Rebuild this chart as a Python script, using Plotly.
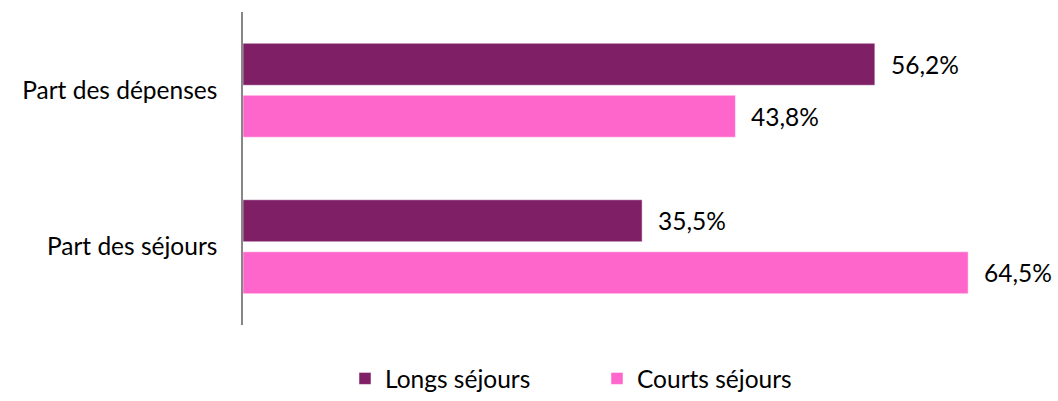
import plotly.graph_objects as go

categories = ["Part des dépenses", "Part des séjours"]
longs = [56.2, 35.5]
courts = [43.8, 64.5]
series_names = ["Longs séjours", "Courts séjours"]

purple = "#7F1F66"
pink = "#FF66CC"
font = "Lato, Calibri, sans-serif"


def fmt(v):
    return ("%.1f" % v).replace(".", ",") + "%"


fig = go.Figure()
fig.add_trace(go.Bar(y=categories, x=longs, name=series_names[0], orientation="h",
                     marker=dict(color=purple, line=dict(color="white", width=0.5))))
fig.add_trace(go.Bar(y=categories, x=courts, name=series_names[1], orientation="h",
                     marker=dict(color=pink, line=dict(color="white", width=0.5))))

# value labels sit just right of each bar
for vals, shift in [(longs, 26), (courts, -26)]:
    for cat, v in zip(categories, vals):
        fig.add_annotation(x=v, y=cat, text=fmt(v), showarrow=False,
                           xanchor="left", xshift=14, yshift=shift,
                           font=dict(family=font, size=24.5, color="black"))

fig.update_layout(
    width=1058, height=401,
    margin=dict(l=243, r=28, t=12, b=76, autoexpand=False),
    paper_bgcolor="white", plot_bgcolor="white",
    barmode="group", bargap=0.3355, bargroupgap=0.192,
    font=dict(family=font, size=24.5, color="black"),
    showlegend=True,
    legend=dict(orientation="h", xref="container", x=345 / 1058, xanchor="left",
                yref="container", y=-7 / 401, yanchor="bottom", entrywidth=207,
                font=dict(family=font, size=24.5, color="black")),
    xaxis=dict(range=[0, 70], visible=False, showgrid=False, zeroline=False),
    yaxis=dict(autorange="reversed", showline=True, linecolor="#878787", linewidth=1.5,
               ticks="", showgrid=False, ticklabelstandoff=19, automargin=False),
)

# drop the browser's default 8px body margin so the chart fills the window
fig.write_html("out.html", config={"displayModeBar": False},
               post_script="document.body.style.margin='0';")
